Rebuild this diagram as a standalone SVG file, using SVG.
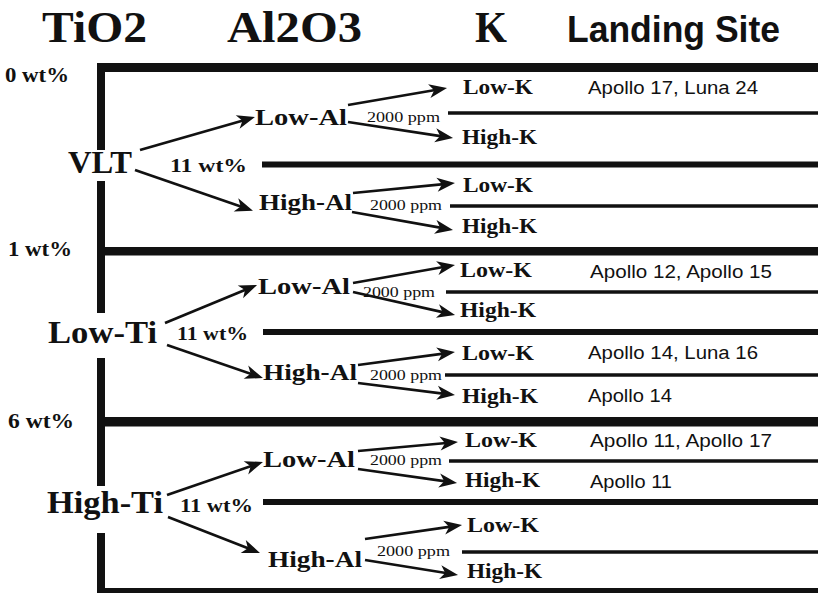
<svg xmlns="http://www.w3.org/2000/svg" width="818" height="593" viewBox="0 0 818 593">
<style>
.hd{font-family:"Liberation Serif","Times New Roman",serif;font-weight:bold;font-size:44px;fill:#111}
.hs{font-family:"Liberation Sans",Arial,sans-serif;font-weight:bold;font-size:36px;fill:#111}
.wt{font-family:"Liberation Serif","Times New Roman",serif;font-weight:bold;font-size:21px;fill:#111}
.root{font-family:"Liberation Serif","Times New Roman",serif;font-weight:bold;font-size:32px;fill:#111}
.w11{font-family:"Liberation Serif","Times New Roman",serif;font-weight:bold;font-size:19px;fill:#111}
.al{font-family:"Liberation Serif","Times New Roman",serif;font-weight:bold;font-size:23px;fill:#111}
.ppm{font-family:"Liberation Serif","Times New Roman",serif;font-size:15px;fill:#111}
.k{font-family:"Liberation Serif","Times New Roman",serif;font-weight:bold;font-size:20px;fill:#111}
.site{font-family:"Liberation Sans",Arial,sans-serif;font-size:18px;fill:#111}
.thick{fill:#111}
.mid{stroke:#111;stroke-width:6}
.thin{stroke:#111;stroke-width:3.5}
.arr{stroke:#111;stroke-width:2.7;fill:none;marker-end:url(#ah)}
</style>
<defs>
<marker id="ah" markerUnits="userSpaceOnUse" viewBox="-16 -9 24 18" markerWidth="24" markerHeight="18" refX="0" refY="0" orient="auto">
<path d="M6,0 L-12,-7 L-7,0 L-12,7 Z" fill="#111"/>
</marker>
</defs>
<rect width="818" height="593" fill="#fff"/>

<g id="header">
<text class="hd" x="42" y="42" textLength="105" lengthAdjust="spacingAndGlyphs">TiO2</text>
<text class="hd" x="227" y="42" textLength="135" lengthAdjust="spacingAndGlyphs">Al2O3</text>
<text class="hd" x="475" y="42" textLength="32" lengthAdjust="spacingAndGlyphs">K</text>
<text class="hs" x="567" y="42" textLength="213" lengthAdjust="spacingAndGlyphs">Landing Site</text>
</g>

<g id="tio2-scale">
<text class="wt" x="5" y="82" textLength="64" lengthAdjust="spacingAndGlyphs">0 wt%</text>
<text class="wt" x="8" y="256" textLength="64" lengthAdjust="spacingAndGlyphs">1 wt%</text>
<text class="wt" x="8" y="428" textLength="66" lengthAdjust="spacingAndGlyphs">6 wt%</text>
</g>

<g id="dividers">
<rect class="thick" x="97" y="63" width="721" height="9"/>
<rect class="thick" x="97" y="247" width="721" height="8.5"/>
<rect class="thick" x="97" y="417" width="721" height="9.5"/>
<rect class="thick" x="97" y="588" width="721" height="5"/>
<rect class="thick" x="97" y="63" width="8" height="87"/>
<rect class="thick" x="97" y="181" width="8" height="132"/>
<rect class="thick" x="97" y="358" width="8" height="128"/>
<rect class="thick" x="97" y="533" width="8" height="60"/>
<line class="mid" x1="262" y1="164.5" x2="818" y2="164.5"/>
<line class="mid" x1="263" y1="332" x2="818" y2="332"/>
<line class="mid" x1="263" y1="502" x2="818" y2="502"/>
<line class="thin" x1="448" y1="113" x2="818" y2="113"/>
<line class="thin" x1="450" y1="206" x2="818" y2="206"/>
<line class="thin" x1="446" y1="292" x2="818" y2="292"/>
<line class="thin" x1="445" y1="375" x2="818" y2="375"/>
<line class="thin" x1="449" y1="461" x2="818" y2="461"/>
<line class="thin" x1="462" y1="552" x2="818" y2="552"/>
</g>

<g id="node-vlt">
<text class="root" x="68" y="173" textLength="64" lengthAdjust="spacingAndGlyphs">VLT</text>
<text class="w11" x="170" y="172" textLength="77" lengthAdjust="spacingAndGlyphs">11 wt%</text>
</g>
<g id="node-vlt-lowal">
<text class="al" x="255" y="125" textLength="92" lengthAdjust="spacingAndGlyphs">Low-Al</text>
<text class="ppm" x="367" y="122" textLength="73" lengthAdjust="spacingAndGlyphs">2000 ppm</text>
</g>
<g id="node-vlt-highal">
<text class="al" x="259" y="210" textLength="93" lengthAdjust="spacingAndGlyphs">High-Al</text>
<text class="ppm" x="370" y="210" textLength="72" lengthAdjust="spacingAndGlyphs">2000 ppm</text>
</g>
<g id="node-vlt-lowal-lowk"><text class="k" x="463" y="94" textLength="70" lengthAdjust="spacingAndGlyphs">Low-K</text>
<text class="site" x="588" y="94" textLength="170" lengthAdjust="spacingAndGlyphs">Apollo 17, Luna 24</text></g>
<g id="node-vlt-lowal-highk"><text class="k" x="462" y="144" textLength="75" lengthAdjust="spacingAndGlyphs">High-K</text></g>
<g id="node-vlt-highal-lowk"><text class="k" x="463" y="192" textLength="70" lengthAdjust="spacingAndGlyphs">Low-K</text></g>
<g id="node-vlt-highal-highk"><text class="k" x="462" y="233" textLength="75" lengthAdjust="spacingAndGlyphs">High-K</text></g>

<g id="node-lowti">
<text class="root" x="48" y="343" textLength="109" lengthAdjust="spacingAndGlyphs">Low-Ti</text>
<text class="w11" x="177" y="340" textLength="71" lengthAdjust="spacingAndGlyphs">11 wt%</text>
</g>
<g id="node-lowti-lowal">
<text class="al" x="258" y="294" textLength="92" lengthAdjust="spacingAndGlyphs">Low-Al</text>
<text class="ppm" x="363" y="297" textLength="72" lengthAdjust="spacingAndGlyphs">2000 ppm</text>
</g>
<g id="node-lowti-highal">
<text class="al" x="263" y="380" textLength="94" lengthAdjust="spacingAndGlyphs">High-Al</text>
<text class="ppm" x="370" y="380" textLength="72" lengthAdjust="spacingAndGlyphs">2000 ppm</text>
</g>
<g id="node-lowti-lowal-lowk"><text class="k" x="460" y="277" textLength="72" lengthAdjust="spacingAndGlyphs">Low-K</text>
<text class="site" x="590" y="278" textLength="182" lengthAdjust="spacingAndGlyphs">Apollo 12, Apollo 15</text></g>
<g id="node-lowti-lowal-highk"><text class="k" x="460" y="317" textLength="76" lengthAdjust="spacingAndGlyphs">High-K</text></g>
<g id="node-lowti-highal-lowk"><text class="k" x="462" y="360" textLength="72" lengthAdjust="spacingAndGlyphs">Low-K</text>
<text class="site" x="588" y="359" textLength="170" lengthAdjust="spacingAndGlyphs">Apollo 14, Luna 16</text></g>
<g id="node-lowti-highal-highk"><text class="k" x="462" y="403" textLength="76" lengthAdjust="spacingAndGlyphs">High-K</text>
<text class="site" x="588" y="402" textLength="84" lengthAdjust="spacingAndGlyphs">Apollo 14</text></g>

<g id="node-highti">
<text class="root" x="47" y="513" textLength="116" lengthAdjust="spacingAndGlyphs">High-Ti</text>
<text class="w11" x="180" y="512" textLength="73" lengthAdjust="spacingAndGlyphs">11 wt%</text>
</g>
<g id="node-highti-lowal">
<text class="al" x="263" y="467" textLength="92" lengthAdjust="spacingAndGlyphs">Low-Al</text>
<text class="ppm" x="370" y="465" textLength="72" lengthAdjust="spacingAndGlyphs">2000 ppm</text>
</g>
<g id="node-highti-highal">
<text class="al" x="268" y="567" textLength="94" lengthAdjust="spacingAndGlyphs">High-Al</text>
<text class="ppm" x="377" y="556" textLength="73" lengthAdjust="spacingAndGlyphs">2000 ppm</text>
</g>
<g id="node-highti-lowal-lowk"><text class="k" x="465" y="447" textLength="72" lengthAdjust="spacingAndGlyphs">Low-K</text>
<text class="site" x="590" y="447" textLength="182" lengthAdjust="spacingAndGlyphs">Apollo 11, Apollo 17</text></g>
<g id="node-highti-lowal-highk"><text class="k" x="465" y="487" textLength="75" lengthAdjust="spacingAndGlyphs">High-K</text>
<text class="site" x="590" y="488" textLength="82" lengthAdjust="spacingAndGlyphs">Apollo 11</text></g>
<g id="node-highti-highal-lowk"><text class="k" x="467" y="532" textLength="72" lengthAdjust="spacingAndGlyphs">Low-K</text></g>
<g id="node-highti-highal-highk"><text class="k" x="467" y="578" textLength="75" lengthAdjust="spacingAndGlyphs">High-K</text></g>

<g id="connectors">
<line class="arr" x1="140" y1="150" x2="249.2" y2="118.7"/>
<line class="arr" x1="135" y1="170" x2="247.3" y2="208.8"/>
<line class="arr" x1="348" y1="105" x2="441.1" y2="89.0"/>
<line class="arr" x1="348" y1="122" x2="447.1" y2="137.1"/>
<line class="arr" x1="353" y1="193" x2="449" y2="183.6"/>
<line class="arr" x1="352" y1="212" x2="447.1" y2="228.9"/>
<line class="arr" x1="165" y1="323" x2="251.5" y2="287.3"/>
<line class="arr" x1="167" y1="345" x2="257.3" y2="376.1"/>
<line class="arr" x1="353" y1="283" x2="449.1" y2="266.0"/>
<line class="arr" x1="353" y1="292" x2="449.2" y2="313.6"/>
<line class="arr" x1="358" y1="365" x2="449" y2="352.8"/>
<line class="arr" x1="358" y1="383" x2="449" y2="394.3"/>
<line class="arr" x1="167" y1="495" x2="257.3" y2="463.9"/>
<line class="arr" x1="168" y1="517" x2="254.4" y2="550.8"/>
<line class="arr" x1="358" y1="451" x2="452" y2="442.5"/>
<line class="arr" x1="358" y1="469" x2="451.1" y2="482.2"/>
<line class="arr" x1="365" y1="539" x2="456.1" y2="525.9"/>
<line class="arr" x1="365" y1="560" x2="452.1" y2="574.0"/>
</g>
</svg>
